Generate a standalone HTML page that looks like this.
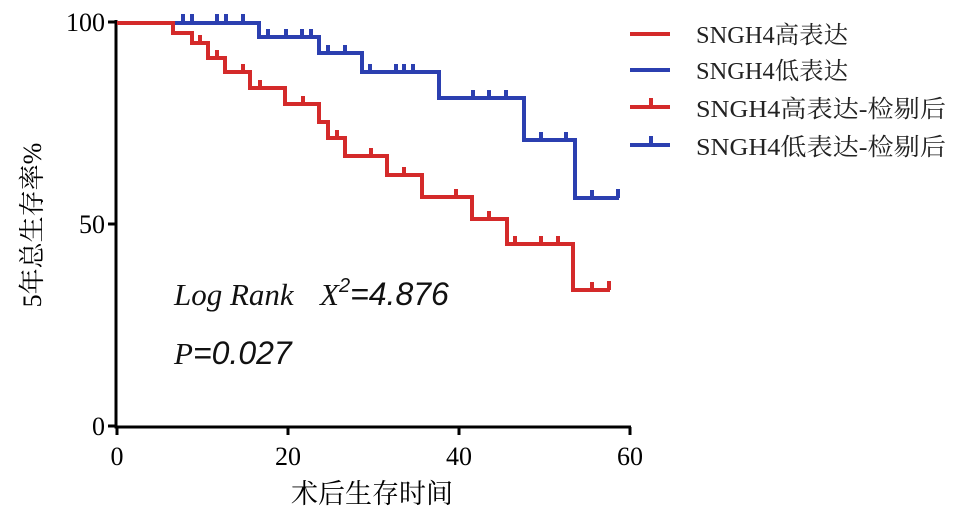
<!DOCTYPE html><html><head><meta charset="utf-8"><style>body{margin:0;background:#fff}svg{display:block}</style></head><body>
<svg width="964" height="523" viewBox="0 0 964 523" xmlns="http://www.w3.org/2000/svg">
<rect width="964" height="523" fill="#fff"/>
<g stroke="#000" stroke-width="3" fill="none">
<path d="M116,20 V427 H631"/>
<path d="M108,22 H116 M108,224 H116 M108,426 H116"/>
<path d="M117,427 V435 M288,427 V435 M459,427 V435 M630,427 V435"/>
</g>
<g font-family="Liberation Serif, serif" font-size="26" fill="#000">
<text x="105" y="31" text-anchor="end">100</text>
<text x="105" y="233" text-anchor="end">50</text>
<text x="105" y="435" text-anchor="end">0</text>
<text x="117" y="465" text-anchor="middle">0</text>
<text x="288" y="465" text-anchor="middle">20</text>
<text x="459" y="465" text-anchor="middle">40</text>
<text x="630" y="465" text-anchor="middle">60</text>
<text x="372" y="503" text-anchor="middle" font-family="Liberation Serif, Noto Serif CJK SC, serif" font-size="27">术后生存时间</text>
<text transform="translate(41,225) rotate(-90)" text-anchor="middle" font-family="Liberation Serif, Noto Serif CJK SC, serif" font-size="26">5年总生存率%</text>
</g>
<g fill="none" stroke-width="4" stroke-linejoin="miter">
<path stroke="#2b3fb0" d="M117,23 H259 V37 H319 V53 H362 V72 H439 V98 H524 V140 H575 V198 H619"/>
<path stroke="#2b3fb0" d="M183,23v-9M192,23v-9M217,23v-9M226,23v-9M243,23v-9M268,37v-8M286,37v-8M302,37v-8M311,37v-8M328,53v-8M345,53v-8M370,72v-8M396,72v-8M404,72v-8M413,72v-8M473,98v-8M489,98v-8M506,98v-8M541,140v-8M566,140v-8M592,198v-8M618,198v-9"/>
<path stroke="#d42a2a" d="M117,23 H173 V33 H192 V43 H208 V58 H225 V72 H250 V88 H285 V104 H319 V122 H328 V138 H345 V156 H387 V175 H422 V197 H472 V219 H507 V244 H573 V290 H610"/>
<path stroke="#d42a2a" d="M200,43v-8M217,58v-8M243,72v-8M260,88v-8M303,104v-8M337,138v-8M371,156v-8M404,175v-8M456,197v-8M489,219v-8M515,244v-8M541,244v-8M558,244v-8M592,290v-8M609,290v-9"/>
</g>
<g stroke-width="4">
<path stroke="#d42a2a" d="M630,34H670"/>
<path stroke="#2b3fb0" d="M630,70H670"/>
<path stroke="#d42a2a" d="M630,107H670M651,107v-9"/>
<path stroke="#2b3fb0" d="M630,145H670M651,145v-9"/>
</g>
<g font-family="Liberation Serif, Noto Serif CJK SC, serif" font-size="24" fill="#222">
<text x="696" y="43" textLength="152" lengthAdjust="spacingAndGlyphs">SNGH4高表达</text>
<text x="696" y="79" textLength="152" lengthAdjust="spacingAndGlyphs">SNGH4低表达</text>
<text x="696" y="117" textLength="250" lengthAdjust="spacingAndGlyphs">SNGH4高表达-检剔后</text>
<text x="696" y="155" textLength="250" lengthAdjust="spacingAndGlyphs">SNGH4低表达-检剔后</text>
</g>
<g font-family="Liberation Sans, sans-serif" font-style="italic" font-size="32" fill="#111">
<text x="174" y="305"><tspan font-family="Liberation Serif, serif" font-size="31">Log Rank</tspan><tspan font-family="Liberation Serif, serif" font-size="31" x="320">X</tspan><tspan font-size="20" dy="-13">2</tspan><tspan dy="13">=4.876</tspan></text>
<text x="174" y="364"><tspan font-family="Liberation Serif, serif" font-size="31">P</tspan>=0.027</text>
</g>
</svg>
</body></html>
